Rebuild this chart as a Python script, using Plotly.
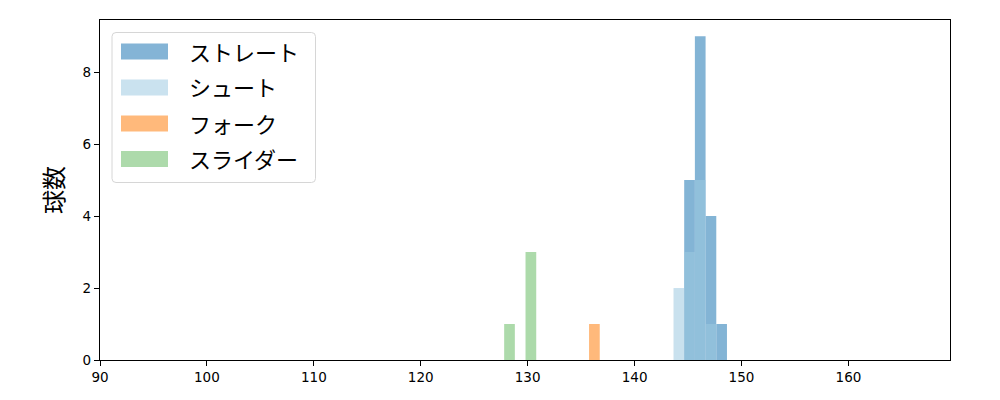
import plotly.graph_objects as go

# histogram bins (about 1 km/h wide), centers
straight_x = [145.14, 146.14, 147.14, 148.14]
straight_n = [5, 9, 4, 1]
shoot_x = [144.14, 145.14, 146.14, 147.14]
shoot_n = [2, 3, 5, 1]
fork_x = [136.24]
fork_n = [1]
slider_x = [128.3, 130.3]
slider_n = [1, 3]

series = [
    ("ストレート", straight_x, straight_n, "#1f77b4"),
    ("シュート", shoot_x, shoot_n, "#9ecae1"),
    ("フォーク", fork_x, fork_n, "#ff7f0e"),
    ("スライダー", slider_x, slider_n, "#69bc66"),
]

x_ticks = [90, 100, 110, 120, 130, 140, 150, 160]
y_ticks = [0, 2, 4, 6, 8]

ALPHA = 0.55
JP_FONT = "Noto Sans CJK JP"

fig = go.Figure()
for name, xs, ns, color in series:
    fig.add_trace(
        go.Bar(
            x=xs,
            y=ns,
            width=1.0,
            name=name,
            marker=dict(color=color, line=dict(width=0)),
            opacity=ALPHA,
            showlegend=False,
        )
    )

# matplotlib-style legend: wide patches inside a rounded box (paper coords of the plot area)
PW, PH = 850.0, 340.0


def px_x(px):
    return (px - 100) / PW


def px_y(py):
    return (360 - py) / PH


x0, x1, y0, y1 = px_x(112), px_x(315.5), px_y(182.5), px_y(32.5)
r = 4
rx, ry = r / PW, r / PH
fig.add_shape(
    type="path",
    xref="paper",
    yref="paper",
    path=(
        f"M {x0 + rx},{y0} L {x1 - rx},{y0} Q {x1},{y0} {x1},{y0 + ry} "
        f"L {x1},{y1 - ry} Q {x1},{y1} {x1 - rx},{y1} "
        f"L {x0 + rx},{y1} Q {x0},{y1} {x0},{y1 - ry} "
        f"L {x0},{y0 + ry} Q {x0},{y0} {x0 + rx},{y0} Z"
    ),
    line=dict(color="#d6d6d6", width=1),
    fillcolor="rgba(255,255,255,0.8)",
    layer="above",
)
row_centers = [51.5, 87.5, 123.5, 159]
for (name, _, _, color), cy in zip(series, row_centers):
    fig.add_shape(
        type="rect",
        xref="paper",
        yref="paper",
        x0=px_x(121),
        x1=px_x(168),
        y0=px_y(cy + 8),
        y1=px_y(cy - 8),
        fillcolor=color,
        opacity=ALPHA,
        line=dict(width=0),
        layer="above",
    )
    fig.add_annotation(
        xref="paper",
        yref="paper",
        x=px_x(187),
        y=px_y(cy - 1),
        xanchor="left",
        yanchor="middle",
        text=name,
        showarrow=False,
        font=dict(family=JP_FONT, size=22, color="black"),
    )

# the page body adds an 8px offset, so the figure is 992x392 with margins trimmed to match
fig.update_layout(
    width=992,
    height=392,
    barmode="overlay",
    margin=dict(l=92, r=50, t=12, b=40),
    paper_bgcolor="white",
    plot_bgcolor="white",
    font=dict(family="DejaVu Sans, sans-serif", color="black", size=13.5),
    showlegend=False,
)
fig.update_xaxes(
    range=[90, 169.5],
    tickvals=x_ticks,
    ticks="outside",
    ticklen=5,
    tickcolor="black",
    showline=True,
    linecolor="black",
    linewidth=1.3,
    mirror=True,
    showgrid=False,
    zeroline=False,
)
fig.update_yaxes(
    range=[0, 9.45],
    tickvals=y_ticks,
    ticks="outside",
    ticklen=5,
    tickcolor="black",
    showline=True,
    linecolor="black",
    linewidth=1.3,
    mirror=True,
    showgrid=False,
    zeroline=False,
    title=dict(text="球数", font=dict(family=JP_FONT, size=24), standoff=12),
)

fig.write_html("out.html")
